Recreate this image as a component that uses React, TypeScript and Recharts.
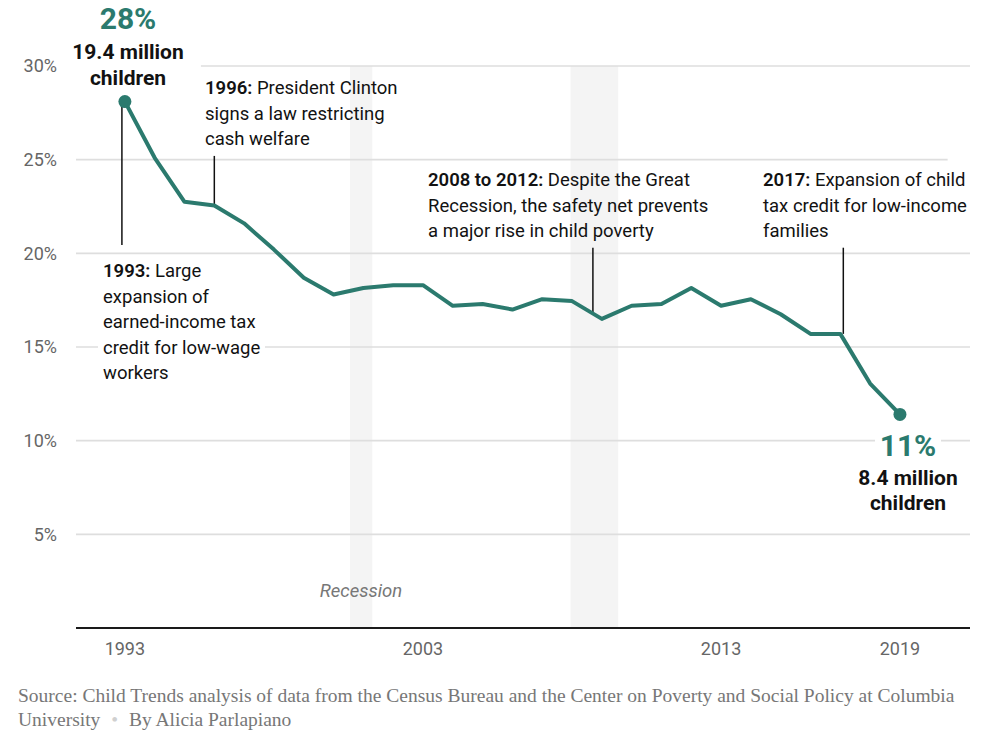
import React from "react";
import {
  LineChart,
  Line,
  XAxis,
  YAxis,
  ReferenceArea,
  ReferenceLine,
} from "recharts";

const years = [
  1993, 1994, 1995, 1996, 1997, 1998, 1999, 2000, 2001, 2002, 2003, 2004, 2005,
  2006, 2007, 2008, 2009, 2010, 2011, 2012, 2013, 2014, 2015, 2016, 2017, 2018,
  2019,
];
const povertyRate = [
  28.1, 25.1, 22.75, 22.55, 21.6, 20.2, 18.7, 17.8, 18.15, 18.3, 18.3, 17.2,
  17.3, 17.0, 17.55, 17.45, 16.5, 17.2, 17.3, 18.15, 17.2, 17.55, 16.75, 15.7,
  15.7, 13.05, 11.4,
];
const xTicks = [1993, 2003, 2013, 2019];
const yTicks = [5, 10, 15, 20, 25, 30];
const recessions = [
  [2000.55, 2001.3],
  [2007.95, 2009.55],
];

const TEAL = "#2b7a6e";
const X_MIN = 1991.36;
const X_MAX = 2021.35;
const SANS = "Roboto, 'Liberation Sans', sans-serif";

const data = years.map((year, i) => ({ year, rate: povertyRate[i] }));
const last = data.length - 1;

const note: React.CSSProperties = {
  position: "absolute",
  fontFamily: SANS,
  fontSize: 18.5,
  lineHeight: "25.5px",
  color: "#121212",
  whiteSpace: "nowrap",
};

function EndDot(props: any) {
  const { cx, cy, index } = props;
  if (index !== 0 && index !== last) return <g key={`d-${index}`} />;
  return <circle key={`d-${index}`} cx={cx} cy={cy} r={6.5} fill={TEAL} />;
}

export default function App() {
  return (
    <div
      style={{
        position: "absolute",
        left: 0,
        top: 0,
        width: 1000,
        height: 755,
        background: "#fff",
        fontFamily: SANS,
      }}
    >
      <LineChart
        width={1000}
        height={690}
        data={data}
        margin={{ top: 66, right: 30, left: 0, bottom: 0 }}
      >
        {recessions.map(([a, b], i) => (
          <ReferenceArea
            key={`rec-${i}`}
            x1={a}
            x2={b}
            y1={0}
            y2={30}
            fill="#f4f4f4"
            fillOpacity={1}
            stroke="none"
          />
        ))}
        {yTicks.map((v) => (
          <ReferenceLine
            key={`grid-${v}`}
            segment={[
              { x: v === 30 ? 1995.55 : X_MIN, y: v },
              { x: v === 25 ? 2020.6 : X_MAX, y: v },
            ]}
            stroke="#dedede"
            strokeWidth={1.6}
          />
        ))}
        <XAxis
          type="number"
          dataKey="year"
          domain={[X_MIN, X_MAX]}
          ticks={xTicks}
          allowDataOverflow
          height={62}
          tickLine={false}
          axisLine={{ stroke: "#1a1a1a", strokeWidth: 2 }}
          tickMargin={8}
          tick={{ fill: "#666", fontSize: 18, fontFamily: SANS }}
        />
        <YAxis
          type="number"
          domain={[0, 30]}
          ticks={yTicks}
          width={76}
          axisLine={false}
          tickLine={false}
          tickMargin={13}
          tickFormatter={(v) => `${v}%`}
          tick={{ fill: "#666", fontSize: 18, fontFamily: SANS }}
        />
        <ReferenceLine
          segment={[
            { x: 1992.9, y: 28.1 },
            { x: 1992.9, y: 20.45 },
          ]}
          stroke="#111"
          strokeWidth={1.5}
        />
        <ReferenceLine
          segment={[
            { x: 1996, y: 25.2 },
            { x: 1996, y: 22.55 },
          ]}
          stroke="#111"
          strokeWidth={1.5}
        />
        <ReferenceLine
          segment={[
            { x: 2008.7, y: 20.3 },
            { x: 2008.7, y: 16.85 },
          ]}
          stroke="#111"
          strokeWidth={1.5}
        />
        <ReferenceLine
          segment={[
            { x: 2017.1, y: 20.3 },
            { x: 2017.1, y: 15.7 },
          ]}
          stroke="#111"
          strokeWidth={1.5}
        />
        <Line
          type="linear"
          dataKey="rate"
          stroke={TEAL}
          strokeWidth={4}
          strokeLinejoin="round"
          dot={EndDot}
          activeDot={false}
          isAnimationActive={false}
        />
      </LineChart>

      {/* start label */}
      <div
        style={{
          position: "absolute",
          left: 58,
          top: 2,
          width: 140,
          textAlign: "center",
          fontFamily: SANS,
        }}
      >
        <div style={{ color: TEAL, fontSize: 30, fontWeight: 700, lineHeight: "34px" }}>
          28%
        </div>
        <div
          style={{
            color: "#121212",
            fontSize: 21,
            fontWeight: 700,
            lineHeight: "26px",
            marginTop: 3,
          }}
        >
          19.4 million
          <br />
          children
        </div>
      </div>

      {/* end label */}
      <div
        style={{
          position: "absolute",
          left: 848,
          top: 428,
          width: 120,
          textAlign: "center",
          fontFamily: SANS,
        }}
      >
        <div
          style={{
            display: "inline-block",
            background: "#fff",
            padding: "0 5px",
            color: TEAL,
            fontSize: 30,
            fontWeight: 700,
            lineHeight: "36px",
          }}
        >
          11%
        </div>
        <div
          style={{
            color: "#121212",
            fontSize: 21,
            fontWeight: 700,
            lineHeight: "25px",
            marginTop: 2,
          }}
        >
          8.4 million
          <br />
          children
        </div>
      </div>

      <div style={{ ...note, left: 205, top: 76 }}>
        <b style={{ fontWeight: 600 }}>1996:</b> President Clinton
        <br />
        signs a law restricting
        <br />
        cash welfare
      </div>

      <div style={{ ...note, left: 98, top: 259, background: "#fff", padding: "0 5px" }}>
        <b style={{ fontWeight: 600 }}>1993:</b> Large
        <br />
        expansion of
        <br />
        earned-income tax
        <br />
        credit for low-wage
        <br />
        workers
      </div>

      <div style={{ ...note, left: 428, top: 168 }}>
        <b style={{ fontWeight: 600 }}>2008 to 2012:</b> Despite the Great
        <br />
        Recession, the safety net prevents
        <br />a major rise in child poverty
      </div>

      <div style={{ ...note, left: 763, top: 168 }}>
        <b style={{ fontWeight: 600 }}>2017:</b> Expansion of child
        <br />
        tax credit for low-income
        <br />
        families
      </div>

      <div
        style={{
          ...note,
          left: 300,
          top: 579,
          width: 122,
          textAlign: "center",
          fontStyle: "italic",
          color: "#777",
        }}
      >
        Recession
      </div>

      <div
        style={{
          position: "absolute",
          left: 18,
          top: 684,
          fontFamily: "'Liberation Serif', serif",
          fontSize: 19.5,
          lineHeight: "24px",
          color: "#777",
          width: 970,
          whiteSpace: "nowrap",
        }}
      >
        Source: Child Trends analysis of data from the Census Bureau and the Center
        on Poverty and Social Policy at Columbia
        <br />
        University <span style={{ color: "#d0d0d0", margin: "0 6px" }}>•</span> By
        Alicia Parlapiano
      </div>
    </div>
  );
}
